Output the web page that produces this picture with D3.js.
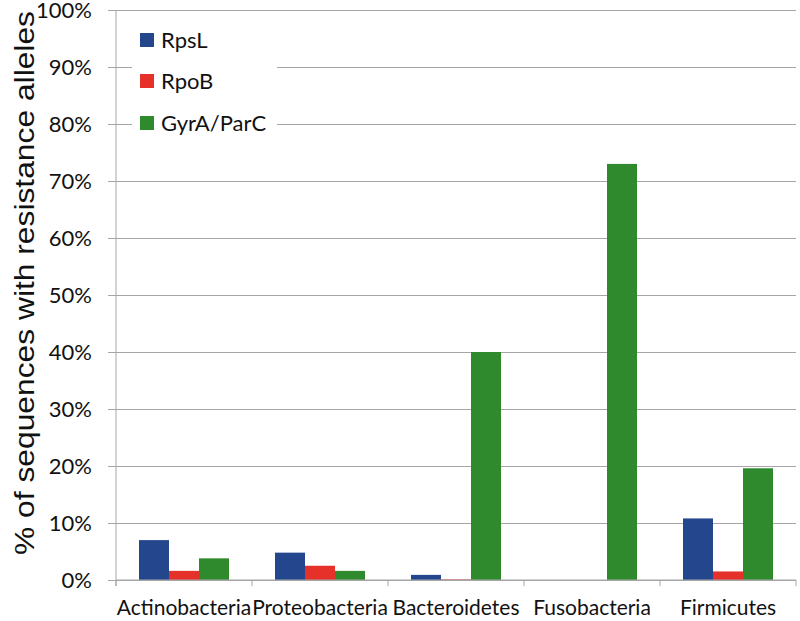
<!DOCTYPE html>
<html>
<head>
<meta charset="utf-8">
<script src="https://cdn.jsdelivr.net/npm/d3@7"></script>
<style>
  body { margin: 0; background: #fff; }
  svg { display: block; }
</style>
</head>
<body>
<div id="chart-area"></div>
<script>
// Chart data
const categories = ["Actinobacteria", "Proteobacteria", "Bacteroidetes", "Fusobacteria", "Firmicutes"];
const seriesNames = ["RpsL", "RpoB", "GyrA/ParC"];
const rpsL = [7.0, 4.8, 0.9, 0, 10.8];
const rpoB = [1.6, 2.5, 0.1, 0, 1.5];
const gyrA = [3.8, 1.6, 40.0, 73.0, 19.6];
const yTicks = [0, 10, 20, 30, 40, 50, 60, 70, 80, 90, 100];

const colors = ["#23468c", "#e5312a", "#2e8a2d"];
const seriesValues = [rpsL, rpoB, gyrA];

const margin = { left: 116, right: 4, top: 10, bottom: 41 },
    width = 800 - margin.left - margin.right,
    height = 621 - margin.top - margin.bottom;

const svg = d3.select("#chart-area").append("svg")
    .attr("width", 800)
    .attr("height", 621);

const g = svg.append("g")
    .attr("transform", "translate(" + margin.left + "," + margin.top + ")");

// Scales
const x0 = d3.scaleBand().domain(categories).range([0, width]).paddingInner(0);
const x1 = d3.scaleBand().domain(seriesNames).range([0, x0.bandwidth()])
    .paddingInner(0).paddingOuter(0.767);
const y = d3.scaleLinear().domain([0, 100]).range([height, 0]);

// Gridlines + y ticks
const yAxis = g.append("g")
    .call(d3.axisLeft(y).tickValues(yTicks).tickSize(-width - 8).tickFormat(d => d + "%"));
yAxis.select(".domain").remove();
yAxis.selectAll(".tick line")
    .attr("x1", -8).attr("x2", width)
    .attr("stroke", "#a6a6a6");
yAxis.selectAll(".tick text")
    .attr("x", -24)
    .attr("dy", "0.36em")
    .attr("fill", "#111")
    .attr("font-size", null)
    .style("font-family", "Lato, 'Open Sans', sans-serif")
    .style("font-size", "22px");

// Bars
const groups = g.selectAll(".grp")
    .data(categories)
    .enter().append("g")
    .attr("class", "grp")
    .attr("transform", d => "translate(" + x0(d) + ",0)");

groups.selectAll("rect")
    .data((d, i) => seriesNames.map((s, j) => ({ s: s, v: seriesValues[j][i], c: colors[j] })))
    .enter().append("rect")
    .attr("x", d => x1(d.s))
    .attr("width", x1.bandwidth())
    .attr("y", d => y(d.v))
    .attr("height", d => height - y(d.v))
    .attr("fill", d => d.c);

// Axis lines
g.append("line")
    .attr("x1", 0).attr("x2", 0)
    .attr("y1", 0).attr("y2", height + 6)
    .attr("stroke", "#a6a6a6");

const xAxis = g.append("g")
    .attr("transform", "translate(0," + height + ")");
xAxis.append("line")
    .attr("x1", 0).attr("x2", width)
    .attr("stroke", "#a6a6a6");
xAxis.selectAll(".xt")
    .data(categories.concat(["end"]))
    .enter().append("line")
    .attr("x1", (d, i) => i * x0.step()).attr("x2", (d, i) => i * x0.step())
    .attr("y1", 0).attr("y2", 6)
    .attr("stroke", "#a6a6a6");
xAxis.selectAll(".xl")
    .data(categories)
    .enter().append("text")
    .attr("x", d => x0(d) + x0.bandwidth() / 2)
    .attr("y", 35)
    .attr("text-anchor", "middle")
    .attr("fill", "#111")
    .style("font-family", "Lato, 'Open Sans', sans-serif")
    .style("font-size", "21px")
    .text(d => d);

// Legend
const legend = svg.append("g");
legend.append("rect")
    .attr("x", 132).attr("y", 18)
    .attr("width", 145).attr("height", 135)
    .attr("fill", "#fff");
const legendRows = [40, 81, 123];
seriesNames.forEach((s, i) => {
    legend.append("rect")
        .attr("x", 140).attr("y", legendRows[i] - 7)
        .attr("width", 14).attr("height", 14)
        .attr("fill", colors[i]);
    legend.append("text")
        .attr("x", 161).attr("y", legendRows[i])
        .attr("dy", "0.36em")
        .attr("fill", "#111")
        .style("font-family", "Lato, 'Open Sans', sans-serif")
        .style("font-size", "22px")
        .text(s);
});

// Y-Axis label
svg.append("text")
    .attr("transform", "translate(34,283) rotate(-90)")
    .attr("text-anchor", "middle")
    .attr("fill", "#111")
    .attr("textLength", 544)
    .attr("lengthAdjust", "spacingAndGlyphs")
    .style("font-family", "'Liberation Sans', Arial, sans-serif")
    .style("font-size", "27px")
    .text("% of sequences with resistance alleles");
</script>
</body>
</html>
